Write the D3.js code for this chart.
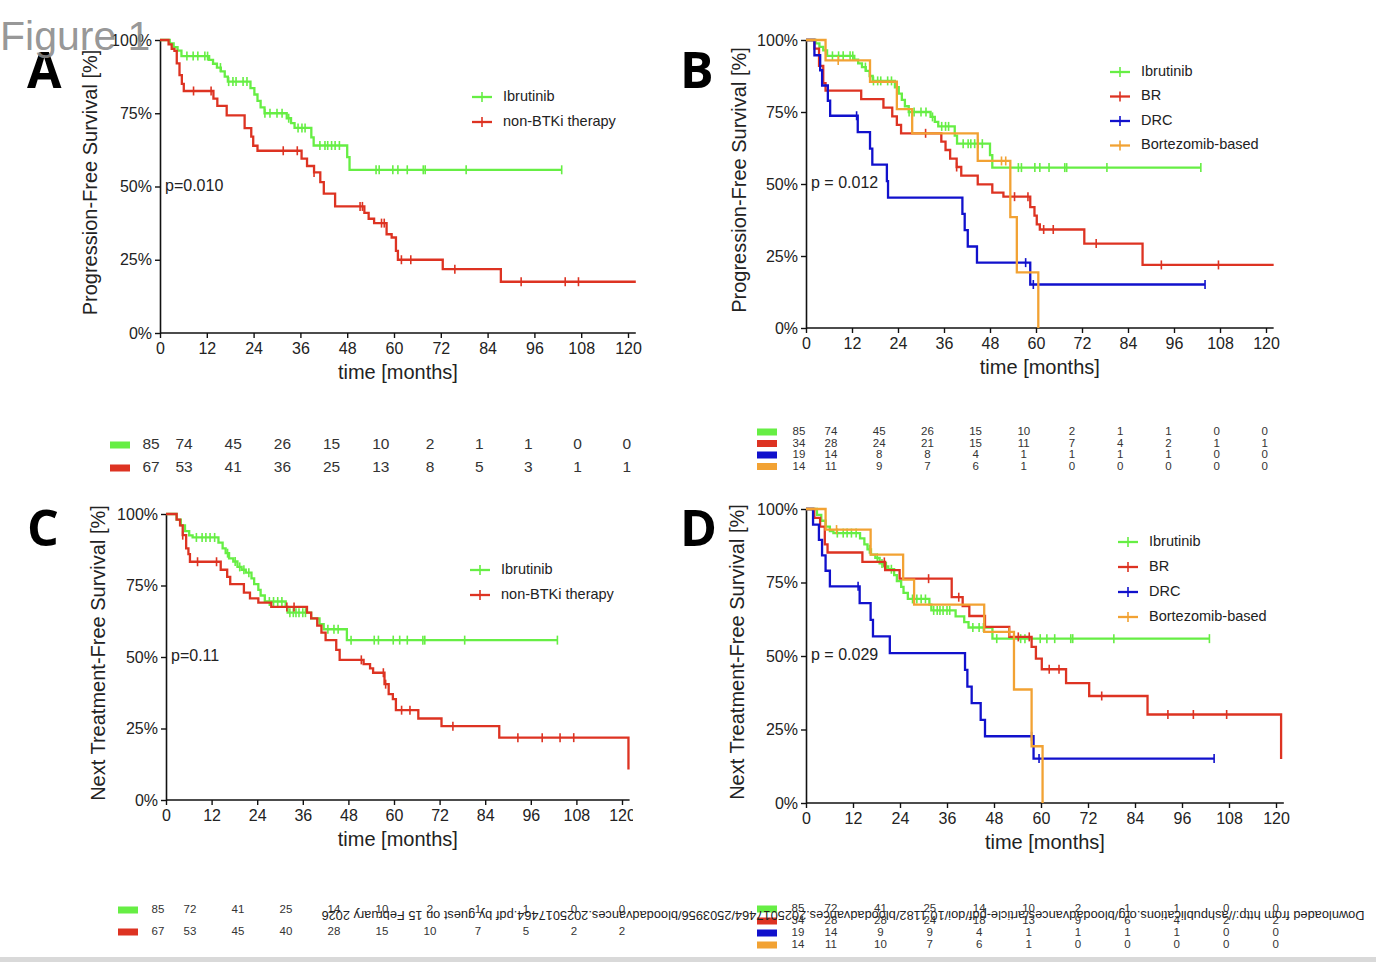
<!DOCTYPE html>
<html>
<head>
<meta charset="utf-8">
<script src="https://cdn.jsdelivr.net/npm/d3@7"></script>
<style>
  body { margin: 0; background: #fff; }
  svg { display: block; font-family: "Liberation Sans", Arial, sans-serif; }
</style>
</head>
<body>
<svg id="fig"></svg>
<script>
// ---- data (months, survival %) ----
const timeTicks = [0, 12, 24, 36, 48, 60, 72, 84, 96, 108, 120];
const yTicks = [0, 25, 50, 75, 100];

// Ibrutinib, progression-free survival (panels A and B)
const ibrPfsT = [2.5, 3.5, 4.5, 5.5, 12.6, 13.6, 14.6, 15.6, 16.6, 17.4, 23.2, 24.2, 25.0, 25.8, 26.8, 32.5, 33.6, 34.5, 38.8, 39.4, 48.0, 48.6];
const ibrPfsS = [98.8, 97.6, 96.4, 94.5, 93.2, 91.9, 90.6, 89.3, 87.5, 85.8, 83.6, 81.4, 79.2, 77.0, 75.0, 73.3, 71.6, 70.0, 66.8, 64.0, 60.0, 55.7];
const ibrPfsC = [6.9, 8.5, 9.7, 11.5, 12.2, 15.5, 17.6, 18.7, 19.5, 21.3, 22.3, 26.9, 28.2, 30, 31.3, 33, 35.4, 36.4, 37.2, 41, 42.3, 43, 44, 44.9, 46, 55.4, 56.2, 59.7, 61, 63.4, 67.5, 68, 78.5, 103];
const ibrPfsEnd = 103;

// non-BTKi therapy, PFS (panel A)
const nbPfsT = [2.2, 3.0, 3.7, 4.3, 5.0, 5.6, 6.1, 13.7, 14.7, 17.1, 21.7, 23.4, 23.9, 25.0, 36.3, 37.7, 39.5, 41.1, 42.0, 44.9, 52.4, 53.5, 54.9, 58.1, 59.4, 60.5, 61.0, 72.5, 87.4];
const nbPfsS = [98.5, 97, 96.3, 92, 88, 85, 82.6, 80, 77.5, 74.3, 69.9, 67, 63.9, 62.2, 59.5, 57, 54.8, 51.5, 47.6, 43.2, 41, 39, 37.5, 33.7, 32.6, 28, 25, 21.8, 17.5];
const nbPfsC = [8.6, 13.1, 31.6, 35.2, 39.5, 51.3, 51.9, 56.8, 57.5, 61.9, 64.3, 75.6, 92.6, 103.9, 107.3];
const nbPfsEnd = 122;

// BR, PFS (panel B)
const brPfsT = [2.2, 3.4, 4.5, 5.1, 14.4, 20.2, 22.5, 23.7, 24.8, 35.3, 36.4, 37.6, 39.3, 40.5, 44.8, 48.6, 51.5, 58.5, 59.6, 60.2, 61.0, 72.6, 87.8];
const brPfsS = [97, 91, 85, 82.4, 79.5, 76.5, 73.5, 70.5, 67.6, 64.7, 61.8, 58.8, 55.9, 52.9, 49.9, 47, 45.6, 42, 39, 36, 34.2, 29.3, 21.9];
const brPfsC = [31.2, 39.3, 54.4, 57.9, 62, 64.5, 75.7, 92.7, 107.6];
const brPfsEnd = 122;

// DRC, PFS (panel B)
const drcPfsT = [2.2, 3.7, 4.2, 5.7, 6.3, 13.5, 16.7, 17.3, 21.1, 21.4, 40.8, 41.4, 42.2, 44.6, 58.5];
const drcPfsS = [94.7, 89.5, 84.2, 78.9, 73.7, 68.0, 62.3, 56.7, 51.0, 45.3, 39.6, 34.0, 28.3, 22.7, 15.1];
const drcPfsC = [13.2, 57.3, 59.3, 104.1];
const drcPfsEnd = 104.1;

// Bortezomib-based, PFS (panel B)
const bortPfsT = [5.1, 16.7, 23.7, 27.7, 44.8, 53.3, 55.0, 60.6];
const bortPfsS = [92.9, 85.5, 76, 67.6, 58, 38.5, 19.3, 0];
const bortPfsC = [8.4, 51.0, 52.1];
const bortPfsEnd = 60.6;

// Ibrutinib, next-treatment-free survival (panels C and D)
const ibrTtT = [2.8, 3.9, 5.0, 6.1, 7.0, 13.8, 14.9, 15.7, 16.6, 17.7, 18.8, 19.9, 21.0, 22.5, 23.2, 24.3, 24.9, 26.0, 31.5, 32.0, 38.2, 40.4, 41.5, 47.6];
const ibrTtS = [98, 96, 94, 92.5, 91.8, 90, 88, 86.3, 84.5, 83.4, 81.5, 80.5, 79.5, 77.5, 75.5, 73.5, 71.5, 69.4, 67.5, 65.5, 63.5, 61.5, 59.7, 55.9];
const ibrTtC = [8.0, 9.5, 10.5, 11.6, 12.8, 16.2, 18.2, 19.4, 20.5, 21.8, 27.2, 28.3, 29.4, 30.5, 32.6, 33.5, 34.2, 35.0, 36.0, 36.7, 42.6, 44.2, 45.3, 48.7, 54.8, 55.9, 59.8, 61.5, 63.5, 67.6, 68.1, 78.6, 103];
const ibrTtEnd = 103;

// non-BTKi therapy, NTFS (panel C)
const nbTtT = [2.8, 3.7, 4.4, 5.3, 5.9, 6.3, 14.4, 16.1, 16.9, 20.5, 22.1, 24.3, 27.7, 37.1, 38.2, 39.8, 40.9, 42.0, 44.8, 45.7, 52.0, 53.7, 54.5, 57.5, 58.6, 59.7, 60.5, 66.4, 72.5, 87.7, 121.7];
const nbTtS = [98, 96, 92.6, 88, 86, 83.3, 80.5, 78, 75.5, 72.5, 70.5, 69, 67.5, 65.5, 63.5, 61, 58.5, 55.9, 52.5, 49, 47.5, 46, 44.5, 40.5, 37, 35.3, 31.4, 28.5, 25.8, 21.8, 10.7];
const nbTtC = [4.4, 8.3, 13.3, 31.8, 33.7, 51.4, 57.2, 57.8, 62.0, 64.2, 75.5, 92.6, 99, 103.7, 107.3];
const nbTtEnd = 121.7;

// BR, NTFS (panel D)
const brTtT = [2.1, 3.6, 4.8, 5.5, 14.4, 20.2, 23.9, 37.2, 40.0, 41.7, 45.7, 51.9, 57.6, 58.7, 60.2, 66.4, 72.3, 87.2, 121.3];
const brTtS = [97, 94, 88, 85.2, 82, 79.2, 76.3, 70, 67, 63.6, 59.9, 56.5, 53.1, 49.1, 45.5, 40.8, 36.4, 30.1, 15];
const brTtC = [20, 31.3, 39, 54.2, 57, 62.1, 64.6, 75.5, 92.4, 98.9, 107.4];
const brTtEnd = 121.3;

// DRC, NTFS (panel D)
const drcTtT = [1.8, 3.3, 4.1, 5.0, 6.1, 13.7, 16.5, 17.1, 21.4, 40.6, 41.2, 42.3, 44.6, 45.7, 58.1];
const drcTtS = [94.7, 89.5, 84.2, 79, 73.7, 68, 62.3, 56.7, 51, 45.3, 39.6, 34, 28.3, 22.7, 15.1];
const drcTtC = [13.3, 57.6, 59.5, 104.2];
const drcTtEnd = 104.2;

// Bortezomib-based, NTFS (panel D)
const bortTtT = [5.0, 16.5, 24.8, 27.6, 45.5, 53.1, 57.6, 60.4];
const bortTtS = [93, 84.5, 76, 67.5, 58.2, 38.6, 19.3, 0];
const bortTtC = [7.8, 51.9];
const bortTtEnd = 60.4;

// numbers at risk
const riskA = [[85, 74, 45, 26, 15, 10, 2, 1, 1, 0, 0],
               [67, 53, 41, 36, 25, 13, 8, 5, 3, 1, 1]];
const riskB = [[85, 74, 45, 26, 15, 10, 2, 1, 1, 0, 0],
               [34, 28, 24, 21, 15, 11, 7, 4, 2, 1, 1],
               [19, 14, 8, 8, 4, 1, 1, 1, 1, 0, 0],
               [14, 11, 9, 7, 6, 1, 0, 0, 0, 0, 0]];
const riskC = [[85, 72, 41, 25, 14, 10, 2, 1, 1, 0, 0],
               [67, 53, 45, 40, 28, 15, 10, 7, 5, 2, 2]];
const riskD = [[85, 72, 41, 25, 14, 10, 2, 1, 1, 0, 0],
               [34, 28, 28, 24, 18, 13, 9, 6, 4, 2, 2],
               [19, 14, 9, 9, 4, 1, 1, 1, 1, 0, 0],
               [14, 11, 10, 7, 6, 1, 0, 0, 0, 0, 0]];

const groups2 = ["Ibrutinib", "non-BTKi therapy"];
const groups4 = ["Ibrutinib", "BR", "DRC", "Bortezomib-based"];
const pValues = ["p=0.010", "p = 0.012", "p=0.11", "p = 0.029"];

// colours
const green = "#66ee44", red = "#dd3322", blue = "#1111cc", orange = "#f2a233";

// ---- canvas ----
const W = 1376, H = 962;
const svg = d3.select("#fig").attr("width", W).attr("height", H);

svg.append("rect").attr("x", 0).attr("y", 957).attr("width", W).attr("height", 5).attr("fill", "#d9d9d9");

function stepPoints(times, surv, end) {
    const pts = [[0, 100]];
    times.forEach(function(t, i) { pts.push([t, surv[i]]); });
    const last = pts[pts.length - 1];
    if (end > last[0]) pts.push([end, last[1]]);
    return pts;
}

function survAt(times, surv, t) {
    let s = 100;
    times.forEach(function(tt, i) { if (tt <= t) s = surv[i]; });
    return s;
}

const panels = [
    { letter: "A", lx: 27, ly: 88, x0: 160, x1: 628, top: 40, bottom: 333, yTitle: "Progression-Free Survival [%]", yTitleX: 92,
      p: pValues[0], legX: 472, legY: 97, legStep: 25, names: groups2,
      curves: [
        { t: ibrPfsT, s: ibrPfsS, c: ibrPfsC, end: ibrPfsEnd, color: green },
        { t: nbPfsT, s: nbPfsS, c: nbPfsC, end: nbPfsEnd, color: red }],
      risk: riskA, rx: 110, ry: 445, rowStep: 23, col0: 151, col1: 184, colStep: 49.2, fs: 15.5 },
    { letter: "B", lx: 680, ly: 88, x0: 806, x1: 1266, top: 40, bottom: 328, yTitle: "Progression-Free Survival [%]", yTitleX: 741,
      p: pValues[1], legX: 1110, legY: 72, legStep: 24.5, names: groups4,
      curves: [
        { t: ibrPfsT, s: ibrPfsS, c: ibrPfsC, end: ibrPfsEnd, color: green },
        { t: brPfsT, s: brPfsS, c: brPfsC, end: brPfsEnd, color: red },
        { t: drcPfsT, s: drcPfsS, c: drcPfsC, end: drcPfsEnd, color: blue },
        { t: bortPfsT, s: bortPfsS, c: bortPfsC, end: bortPfsEnd, color: orange }],
      risk: riskB, rx: 757, ry: 432, rowStep: 11.5, col0: 799, col1: 831, colStep: 48.2, fs: 11.5 },
    { letter: "C", lx: 27, ly: 546, x0: 166, x1: 622, top: 514, bottom: 800, yTitle: "Next Treatment-Free Survival [%]", yTitleX: 100,
      p: pValues[2], legX: 470, legY: 570, legStep: 25, names: groups2, clip: 633,
      curves: [
        { t: ibrTtT, s: ibrTtS, c: ibrTtC, end: ibrTtEnd, color: green },
        { t: nbTtT, s: nbTtS, c: nbTtC, end: nbTtEnd, color: red }],
      risk: riskC, rx: 118, ry: 910, rowStep: 22, col0: 158, col1: 190, colStep: 48, fs: 11.5 },
    { letter: "D", lx: 680, ly: 546, x0: 806, x1: 1276, top: 509, bottom: 803, yTitle: "Next Treatment-Free Survival [%]", yTitleX: 739,
      p: pValues[3], legX: 1118, legY: 542, legStep: 25, names: groups4,
      curves: [
        { t: ibrTtT, s: ibrTtS, c: ibrTtC, end: ibrTtEnd, color: green },
        { t: brTtT, s: brTtS, c: brTtC, end: brTtEnd, color: red },
        { t: drcTtT, s: drcTtS, c: drcTtC, end: drcTtEnd, color: blue },
        { t: bortTtT, s: bortTtS, c: bortTtC, end: bortTtEnd, color: orange }],
      risk: riskD, rx: 757, ry: 909, rowStep: 12, col0: 798, col1: 831, colStep: 49.4, fs: 11.5 }
];

panels.forEach(function(pn, pi) {
    const x = d3.scaleLinear().domain([0, 120]).range([pn.x0, pn.x1]);
    const y = d3.scaleLinear().domain([0, 100]).range([pn.bottom, pn.top]);
    const xEnd = x(122);

    const g = svg.append("g");
    if (pn.clip) {
        svg.append("clipPath").attr("id", "clip" + pi)
            .append("rect").attr("x", 0).attr("y", pn.top - 40).attr("width", pn.clip).attr("height", 400);
        g.attr("clip-path", "url(#clip" + pi + ")");
    }

    // axes
    const xAxis = g.append("g")
        .attr("transform", "translate(0," + pn.bottom + ")")
        .call(d3.axisBottom(x).tickValues(timeTicks).tickSize(5).tickPadding(5).tickSizeOuter(0));
    xAxis.select(".domain").attr("d", "M" + pn.x0 + ",0H" + xEnd);

    const yAxis = g.append("g")
        .attr("transform", "translate(" + pn.x0 + ",0)")
        .call(d3.axisLeft(y).tickValues(yTicks).tickSize(5).tickPadding(3).tickSizeOuter(0)
            .tickFormat(function(d) { return d + "%"; }));

    [xAxis, yAxis].forEach(function(a) {
        a.select(".domain").attr("stroke", "#111").attr("stroke-width", 1.6);
        a.selectAll(".tick line").attr("stroke", "#111").attr("stroke-width", 1.4);
        a.selectAll(".tick text").attr("fill", "#222").attr("font-size", 16)
            .attr("font-family", "'Liberation Sans', Arial, sans-serif");
    });

    // axis titles
    g.append("text")
        .attr("transform", "translate(" + pn.yTitleX + "," + ((pn.top + pn.bottom) / 2 - 4) + ") rotate(-90)")
        .attr("text-anchor", "middle").attr("dominant-baseline", "middle")
        .attr("font-size", 20).attr("fill", "#222")
        .text(pn.yTitle);

    g.append("text")
        .attr("x", x(61)).attr("y", pn.bottom + 46)
        .attr("text-anchor", "middle").attr("font-size", 20).attr("fill", "#222")
        .text("time [months]");

    // p-value
    g.append("text")
        .attr("x", pn.x0 + 5).attr("y", y(50))
        .attr("dominant-baseline", "middle").attr("font-size", 16).attr("fill", "#222")
        .text(pn.p);

    // curves
    const line = d3.line()
        .x(function(d) { return x(d[0]); })
        .y(function(d) { return y(d[1]); })
        .curve(d3.curveStepAfter);

    pn.curves.forEach(function(cv) {
        g.append("path")
            .attr("d", line(stepPoints(cv.t, cv.s, cv.end)))
            .attr("fill", "none").attr("stroke", cv.color).attr("stroke-width", 2.3);

        g.selectAll(null)
            .data(cv.c)
            .enter()
            .append("line")
            .attr("x1", function(d) { return x(d); })
            .attr("x2", function(d) { return x(d); })
            .attr("y1", function(d) { return y(survAt(cv.t, cv.s, d)) - 4.5; })
            .attr("y2", function(d) { return y(survAt(cv.t, cv.s, d)) + 4.5; })
            .attr("stroke", cv.color).attr("stroke-width", 1.6);
    });

    // legend
    pn.names.forEach(function(name, i) {
        const ly = pn.legY + i * pn.legStep;
        const col = pn.curves[i].color;
        g.append("line").attr("x1", pn.legX).attr("x2", pn.legX + 20).attr("y1", ly).attr("y2", ly)
            .attr("stroke", col).attr("stroke-width", 2.3);
        g.append("line").attr("x1", pn.legX + 10).attr("x2", pn.legX + 10).attr("y1", ly - 5).attr("y2", ly + 5)
            .attr("stroke", col).attr("stroke-width", 1.6);
        g.append("text").attr("x", pn.legX + 31).attr("y", ly)
            .attr("dominant-baseline", "middle").attr("font-size", 14.5).attr("fill", "#222")
            .text(name);
    });

    // panel letter
    svg.append("text")
        .attr("x", pn.lx).attr("y", pn.ly)
        .attr("font-family", "'Open Sans', 'DejaVu Sans', sans-serif")
        .attr("font-weight", 700).attr("font-size", 50).attr("fill", "#000")
        .text(pn.letter);

    // numbers at risk
    pn.risk.forEach(function(row, ri) {
        const ry = pn.ry + ri * pn.rowStep;
        svg.append("rect")
            .attr("x", pn.rx).attr("y", ry - 3.5).attr("width", 20).attr("height", 7)
            .attr("fill", pn.curves[ri].color);
        svg.selectAll(null)
            .data(row)
            .enter()
            .append("text")
            .attr("x", function(d, i) { return i === 0 ? pn.col0 : pn.col1 + (i - 1) * pn.colStep; })
            .attr("y", ry)
            .attr("text-anchor", "middle").attr("dominant-baseline", "middle")
            .attr("font-size", pn.fs).attr("fill", "#333")
            .text(function(d) { return d; });
    });
});

// page header and upside-down download stamp
svg.append("text")
    .attr("x", 0).attr("y", 50)
    .attr("font-size", 41).attr("fill", "#8a8a8a").attr("fill-opacity", 0.9)
    .text("Figure 1");

svg.append("text")
    .attr("transform", "translate(843,911) rotate(180)")
    .attr("text-anchor", "middle")
    .attr("font-size", 12).attr("fill", "#222")
    .attr("textLength", 1043).attr("lengthAdjust", "spacingAndGlyphs")
    .text("Downloaded from http://ashpublications.org/bloodadvances/article-pdf/doi/10.1182/bloodadvances.2025017464/2503956/bloodadvances.2025017464.pdf by guest on 15 February 2026");
</script>
</body>
</html>
